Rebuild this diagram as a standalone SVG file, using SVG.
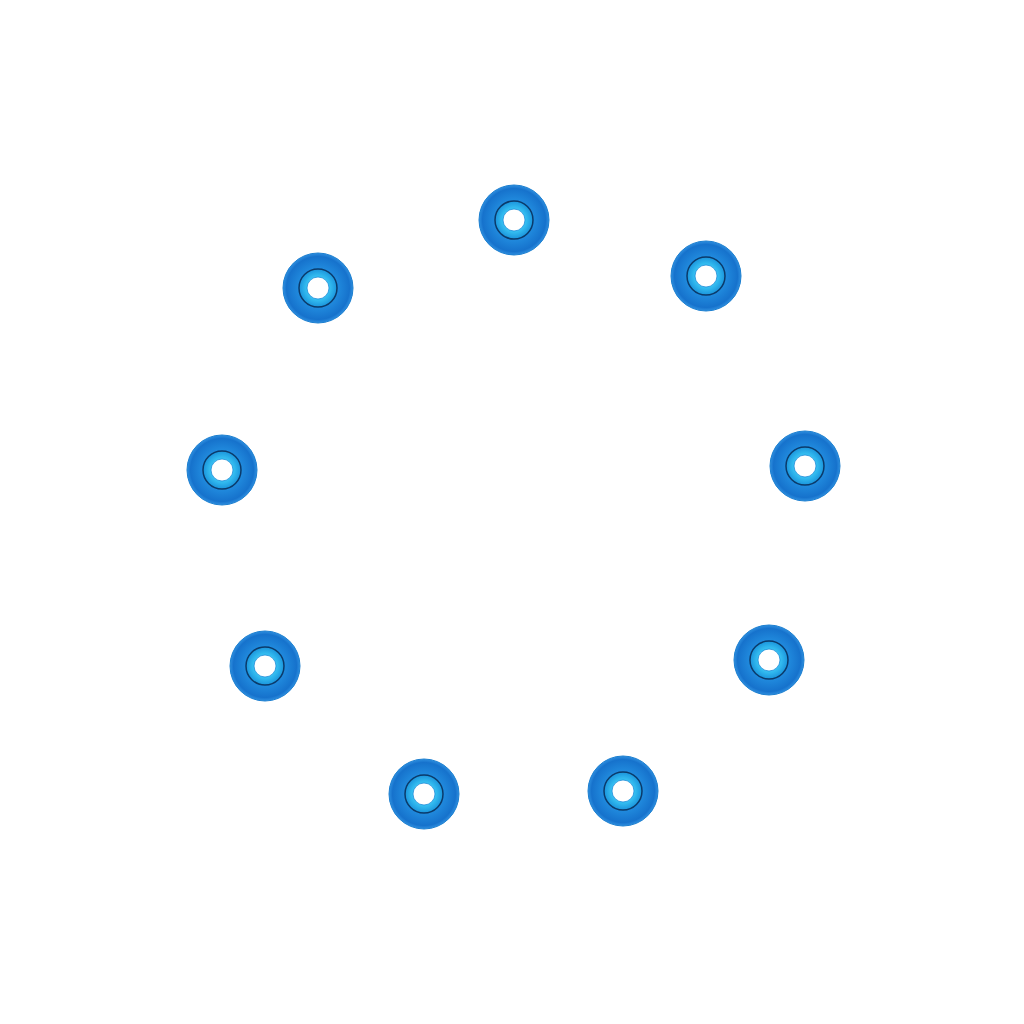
<svg xmlns="http://www.w3.org/2000/svg" width="1024" height="1024" viewBox="0 0 1024 1024">
<defs>
<radialGradient id="g" cx="0.5" cy="0.5" r="0.5"><stop offset="0.5" stop-color="#228ee0"/><stop offset="0.9" stop-color="#1672cc"/><stop offset="1" stop-color="#2e8fe0"/></radialGradient>
<radialGradient id="c" cx="0.5" cy="0.5" r="0.5"><stop offset="0.6" stop-color="#36c0f2"/><stop offset="1" stop-color="#1a94dc"/></radialGradient>
<g id="w">
<circle r="35" fill="url(#g)" stroke="#1c7fd0" stroke-width="1"/>
<circle r="19" fill="url(#c)" stroke="#0b3a6a" stroke-width="1.5"/>
<circle r="11" fill="#fff" stroke="#1a8ad8" stroke-width="0.8"/>
</g>
</defs>
<rect width="1024" height="1024" fill="#fff"/>
<g id="n1"><use href="#w" x="514" y="220"/></g>
<g id="n2"><use href="#w" x="706" y="276"/></g>
<g id="n3"><use href="#w" x="805" y="466"/></g>
<g id="n4"><use href="#w" x="769" y="660"/></g>
<g id="n5"><use href="#w" x="623" y="791"/></g>
<g id="n6"><use href="#w" x="424" y="794"/></g>
<g id="n7"><use href="#w" x="265" y="666"/></g>
<g id="n8"><use href="#w" x="222" y="470"/></g>
<g id="n9"><use href="#w" x="318" y="288"/></g>
</svg>
